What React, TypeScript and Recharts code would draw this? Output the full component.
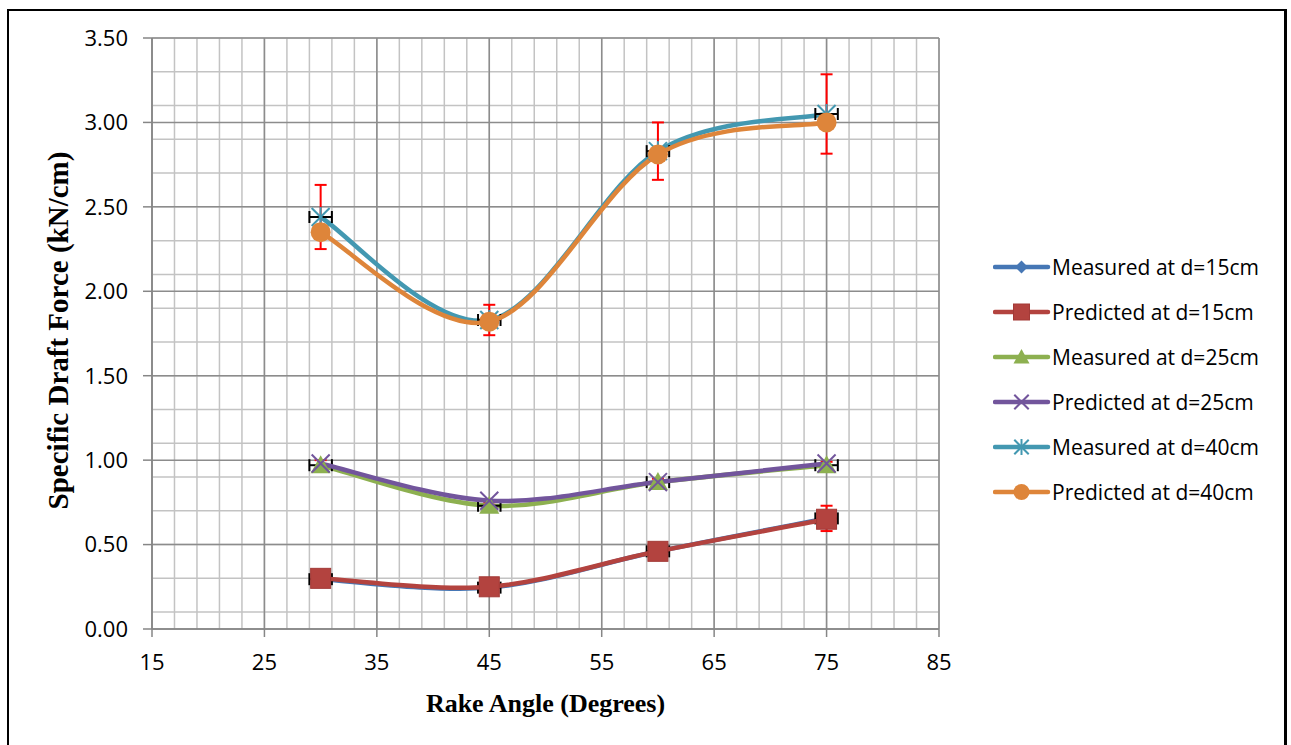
import React from "react";
import {
  CartesianGrid,
  ComposedChart,
  ErrorBar,
  Legend,
  Line,
  Scatter,
  XAxis,
  YAxis,
} from "recharts";

// rake angle (degrees)
const ANGLES = [30, 45, 60, 75];

// specific draft force (kN/cm)
const MEASURED_15 = [0.295, 0.245, 0.46, 0.655];
const PREDICTED_15 = [0.3, 0.25, 0.46, 0.65];
const MEASURED_25 = [0.97, 0.73, 0.87, 0.97];
const PREDICTED_25 = [0.98, 0.76, 0.87, 0.98];
const MEASURED_40 = [2.44, 1.83, 2.83, 3.05];
const PREDICTED_40 = [2.35, 1.82, 2.81, 3.0];

// error bars of the measured series
const ERR_X = [1, 1, 1, 1];
const ERR_Y_15 = [0.02, 0.02, 0.02, 0.075];
const ERR_Y_25 = [0.03, 0.02, 0.02, 0.02];
const ERR_Y_40 = [0.19, 0.09, 0.17, 0.235];

const X_TICKS = [15, 25, 35, 45, 55, 65, 75, 85];
const Y_TICKS = [0, 0.5, 1, 1.5, 2, 2.5, 3, 3.5];

const X_MINOR: number[] = [];
for (let v = X_TICKS[0]; v <= X_TICKS[X_TICKS.length - 1]; v += 2) X_MINOR.push(v);
const Y_MINOR: number[] = [];
for (let i = 0; i <= 35; i++) Y_MINOR.push(Math.round(i * 10) / 100);

const data = ANGLES.map((angle, i) => ({
  angle,
  m15: MEASURED_15[i],
  p15: PREDICTED_15[i],
  m25: MEASURED_25[i],
  p25: PREDICTED_25[i],
  m40: MEASURED_40[i],
  p40: PREDICTED_40[i],
  ex: ERR_X[i],
  ey15: ERR_Y_15[i],
  ey25: ERR_Y_25[i],
  ey40: ERR_Y_40[i],
}));

type Marker = "diamond" | "square" | "triangle" | "x" | "star" | "circle";

const SERIES: { key: string; name: string; color: string; marker: Marker; err?: string }[] = [
  { key: "m15", name: "Measured at d=15cm", color: "#4677B5", marker: "diamond", err: "ey15" },
  { key: "p15", name: "Predicted at d=15cm", color: "#B3433F", marker: "square" },
  { key: "m25", name: "Measured at d=25cm", color: "#8DB050", marker: "triangle", err: "ey25" },
  { key: "p25", name: "Predicted at d=25cm", color: "#72559C", marker: "x" },
  { key: "m40", name: "Measured at d=40cm", color: "#4398B1", marker: "star", err: "ey40" },
  { key: "p40", name: "Predicted at d=40cm", color: "#DE853A", marker: "circle" },
];

const FONT = "'Open Sans', sans-serif";
const SERIF = "'Liberation Serif', 'Times New Roman', serif";

// Excel-like smoothed line (Catmull-Rom through the points)
function excelSmooth(context: any) {
  let pts: number[][] = [];
  return {
    areaStart() {},
    areaEnd() {},
    lineStart() {
      pts = [];
    },
    point(x: number, y: number) {
      pts.push([+x, +y]);
    },
    lineEnd() {
      if (!pts.length) return;
      context.moveTo(pts[0][0], pts[0][1]);
      for (let i = 0; i < pts.length - 1; i++) {
        const p0 = pts[Math.max(i - 1, 0)];
        const p1 = pts[i];
        const p2 = pts[i + 1];
        const p3 = pts[Math.min(i + 2, pts.length - 1)];
        context.bezierCurveTo(
          p1[0] + (p2[0] - p0[0]) / 6,
          p1[1] + (p2[1] - p0[1]) / 6,
          p2[0] - (p3[0] - p1[0]) / 6,
          p2[1] - (p3[1] - p1[1]) / 6,
          p2[0],
          p2[1]
        );
      }
    },
  };
}

function drawMarker(kind: Marker, cx: number, cy: number, color: string, s: number, key?: string) {
  switch (kind) {
    case "diamond":
      return (
        <path key={key} d={`M${cx},${cy - 8 * s}L${cx + 8 * s},${cy}L${cx},${cy + 8 * s}L${cx - 8 * s},${cy}Z`} fill={color} />
      );
    case "square":
      return <rect key={key} x={cx - 10 * s} y={cy - 10 * s} width={20 * s} height={20 * s} fill={color} stroke="#A33A37" strokeWidth={1} />;
    case "triangle":
      return (
        <path key={key} d={`M${cx},${cy - 10 * s}L${cx + 10 * s},${cy + 8 * s}L${cx - 10 * s},${cy + 8 * s}Z`} fill={color} />
      );
    case "x":
      return (
        <g key={key} stroke={color} strokeWidth={2}>
          <line x1={cx - 9 * s} y1={cy - 9 * s} x2={cx + 9 * s} y2={cy + 9 * s} />
          <line x1={cx - 9 * s} y1={cy + 9 * s} x2={cx + 9 * s} y2={cy - 9 * s} />
        </g>
      );
    case "star":
      return (
        <g key={key} stroke={color} strokeWidth={2}>
          <line x1={cx - 9 * s} y1={cy - 9 * s} x2={cx + 9 * s} y2={cy + 9 * s} />
          <line x1={cx - 9 * s} y1={cy + 9 * s} x2={cx + 9 * s} y2={cy - 9 * s} />
          <line x1={cx} y1={cy - 10 * s} x2={cx} y2={cy + 10 * s} />
        </g>
      );
    default:
      return <circle key={key} cx={cx} cy={cy} r={10 * s} fill={color} />;
  }
}

const LegendBox = () => (
  <div style={{ paddingLeft: 54, fontFamily: FONT, fontSize: 21, color: "#000" }}>
    {SERIES.map((s) => (
      <div key={s.key} style={{ height: 45, display: "flex", alignItems: "center" }}>
        <svg width={58} height={24} style={{ display: "block" }}>
          <line x1={2} y1={12} x2={55} y2={12} stroke={s.color} strokeWidth={4.5} strokeLinecap="round" />
          {drawMarker(s.marker, 28.5, 12, s.color, 0.8)}
        </svg>
        <span style={{ marginLeft: 1, whiteSpace: "nowrap" }}>{s.name}</span>
      </div>
    ))}
  </div>
);

const YTitle = ({ viewBox }: any) => {
  const cx = viewBox.x + 49;
  const cy = viewBox.y + viewBox.height / 2 - 3;
  return (
    <text
      x={cx}
      y={cy}
      transform={`rotate(-90 ${cx} ${cy})`}
      textAnchor="middle"
      dominantBaseline="central"
      fontFamily={SERIF}
      fontWeight="bold"
      fontSize={29}
      fill="#000"
    >
      Specific Draft Force (kN/cm)
    </text>
  );
};

const XTitle = ({ viewBox }: any) => (
  <text
    x={viewBox.x + viewBox.width / 2}
    y={viewBox.y + 83}
    textAnchor="middle"
    fontFamily={SERIF}
    fontWeight="bold"
    fontSize={26}
    fill="#000"
  >
    Rake Angle (Degrees)
  </text>
);

export default function App() {
  const tick = { fontSize: 22, fill: "#000", fontFamily: FONT };
  return (
    <div
      style={{
        position: "absolute",
        left: 7,
        top: 9,
        width: 1280,
        height: 760,
        border: "2px solid #000",
        borderRightWidth: 3,
        boxSizing: "border-box",
        background: "#fff",
      }}
    >
      <ComposedChart
        width={1270}
        height={730}
        data={data}
        margin={{ top: 27, right: 10, bottom: 0, left: 0 }}
      >
        <CartesianGrid horizontalValues={Y_MINOR} verticalValues={X_MINOR} stroke="#C3C3C3" strokeWidth={1.5} />
        <CartesianGrid horizontalValues={Y_TICKS} verticalValues={X_TICKS} stroke="#8C8C8C" strokeWidth={1.5} />
        <XAxis
          type="number"
          dataKey="angle"
          domain={[15, 85]}
          ticks={X_TICKS}
          allowDataOverflow
          height={112}
          tickSize={8}
          tickMargin={17}
          tick={tick}
          stroke="#868686"
          strokeWidth={1.5}
          label={<XTitle />}
        />
        <YAxis
          type="number"
          domain={[0, 3.5]}
          ticks={Y_TICKS}
          allowDataOverflow
          width={143}
          tickSize={9}
          tickMargin={15}
          tick={tick}
          tickFormatter={(v: number) => v.toFixed(2)}
          stroke="#868686"
          strokeWidth={1.5}
          label={<YTitle />}
        />
        <Legend
          layout="vertical"
          align="right"
          verticalAlign="top"
          wrapperStyle={{ width: 330, top: 233 }}
          content={() => <LegendBox />}
        />
        {SERIES.flatMap((s) => {
          const items = [
            <Line
              key={s.key}
              dataKey={s.key}
              name={s.name}
              type={excelSmooth as any}
              stroke={s.color}
              strokeWidth={4.5}
              isAnimationActive={false}
              dot={(p: any) => drawMarker(s.marker, p.cx, p.cy, s.color, 1, `${s.key}-${p.index}`)}
              activeDot={false}
            />,
          ];
          if (s.err) {
            items.push(
              <Scatter
                key={`${s.key}-err`}
                dataKey={s.key}
                legendType="none"
                isAnimationActive={false}
                shape={() => <g />}
              >
                <ErrorBar dataKey={s.err} direction="y" stroke="#FF0000" strokeWidth={2} width={6} />
                <ErrorBar dataKey="ex" direction="x" stroke="#000" strokeWidth={2} width={6} />
              </Scatter>
            );
          }
          return items;
        })}
      </ComposedChart>
    </div>
  );
}
